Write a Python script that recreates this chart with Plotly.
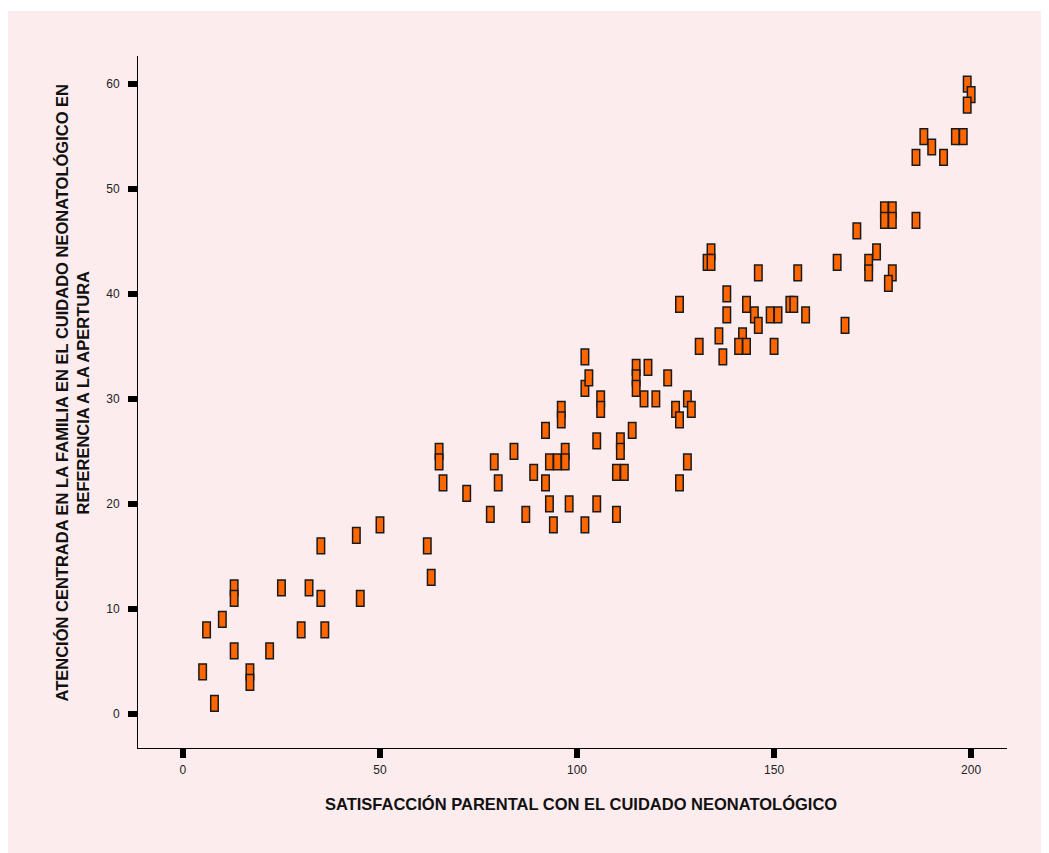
import plotly.graph_objects as go

# Data
satisfaccion = [5, 6, 8, 10, 13, 13, 13, 17, 17, 22, 25, 30, 32, 35, 35, 36, 44, 45, 50,
                62, 63, 65, 65, 66, 72, 78, 79, 80, 84, 87, 89, 92, 92, 93, 93, 94, 95,
                96, 96, 97, 97, 98, 102, 102, 103, 102, 105, 105, 106, 106, 110, 110,
                111, 111, 112, 114, 115, 115, 115, 118, 117, 120, 123, 125, 126, 128,
                129, 126, 128, 131, 136, 137, 126, 138, 138, 143, 145, 146, 149, 151,
                154, 155, 158, 168, 142, 141, 143, 150, 134, 133, 134, 146, 156, 166,
                174, 174, 180, 179, 171, 176, 178, 180, 178, 180, 186, 186, 193, 188,
                190, 196, 198, 199, 200, 199]
atencion = [4, 8, 1, 9, 12, 11, 6, 4, 3, 6, 12, 8, 12, 11, 16, 8, 17, 11, 18,
            16, 13, 25, 24, 22, 21, 19, 24, 22, 25, 19, 23, 27, 22, 24, 20, 18, 24,
            29, 28, 25, 24, 20, 34, 31, 32, 18, 26, 20, 30, 29, 19, 23,
            26, 25, 23, 27, 33, 32, 31, 33, 30, 30, 32, 29, 28, 30,
            29, 22, 24, 35, 36, 34, 39, 40, 38, 39, 38, 37, 38, 38,
            39, 39, 38, 37, 36, 35, 35, 35, 44, 43, 43, 42, 42, 43,
            43, 42, 42, 41, 46, 44, 48, 48, 47, 47, 47, 53, 53, 55,
            54, 55, 55, 60, 59, 58]

x_ticks = [0, 50, 100, 150, 200]
y_ticks = [0, 10, 20, 30, 40, 50, 60]

x_title = "SATISFACCIÓN PARENTAL CON EL CUIDADO NEONATOLÓGICO"
y_title = "ATENCIÓN CENTRADA EN LA FAMILIA EN EL CUIDADO NEONATOLÓGICO EN<br>REFERENCIA A LA APERTURA"

# Marker box size in data units (rectangular marks)
BOX_W = 1.9
BOX_H = 1.5

PINK = "#fdecee"
# page body has an 8px margin, so the figure is sized to fit the window
W, H = 1041, 845
L, R, T, B = 130, 42, 48, 105
PW, PH = W - L - R, H - T - B


def px_to_paper_x(px):
    return (px - L) / PW


def px_to_paper_y(py):
    return 1 - (py - T) / PH


fig = go.Figure()
fig.add_trace(go.Bar(
    x=satisfaccion,
    y=[BOX_H] * len(atencion),
    base=[v - BOX_H / 2 for v in atencion],
    width=BOX_W,
    marker=dict(color="#ff6600", line=dict(color="#1a1a1a", width=1.5)),
    showlegend=False,
    hoverinfo="skip",
))

tick_font = dict(family="Liberation Sans, Arial, sans-serif", size=12, color="#222222")
title_font = dict(family="Liberation Sans, Arial, sans-serif", size=16.5, color="#111111")

fig.update_layout(
    width=W, height=H,
    margin=dict(l=L, r=R, t=T, b=B, autoexpand=False),
    paper_bgcolor=PINK,
    plot_bgcolor=PINK,
    barmode="overlay",
    showlegend=False,
    xaxis=dict(
        range=[-11.4, 209.1], tickmode="array", tickvals=x_ticks,
        ticktext=[str(v) for v in x_ticks],
        showgrid=False, zeroline=False, showline=True, linecolor="black", linewidth=1,
        ticks="outside", ticklen=9, tickwidth=6, tickcolor="black",
        tickfont=tick_font, ticklabelstandoff=2,
    ),
    yaxis=dict(
        range=[-3.26, 62.67], tickmode="array", tickvals=y_ticks,
        ticktext=[str(v) for v in y_ticks],
        showgrid=False, zeroline=False, showline=True, linecolor="black", linewidth=1,
        ticks="outside", ticklen=9, tickwidth=6, tickcolor="black",
        tickfont=tick_font, ticklabelstandoff=6,
    ),
    shapes=[
        dict(type="rect", xref="paper", yref="paper", layer="above",
             x0=px_to_paper_x(-2), x1=px_to_paper_x(W + 2),
             y0=px_to_paper_y(3), y1=px_to_paper_y(-2),
             fillcolor="white", line=dict(width=0)),
    ],
    annotations=[
        dict(text="<b>" + x_title + "</b>", xref="paper", yref="paper",
             x=px_to_paper_x(572.5), y=px_to_paper_y(795.5),
             xanchor="center", yanchor="middle", showarrow=False, font=title_font),
        dict(text="<b>" + y_title + "</b>", xref="paper", yref="paper",
             x=px_to_paper_x(64.5), y=px_to_paper_y(385),
             xanchor="center", yanchor="middle", showarrow=False, textangle=-90,
             align="center", font=title_font),
    ],
)

fig.write_html("out.html")
